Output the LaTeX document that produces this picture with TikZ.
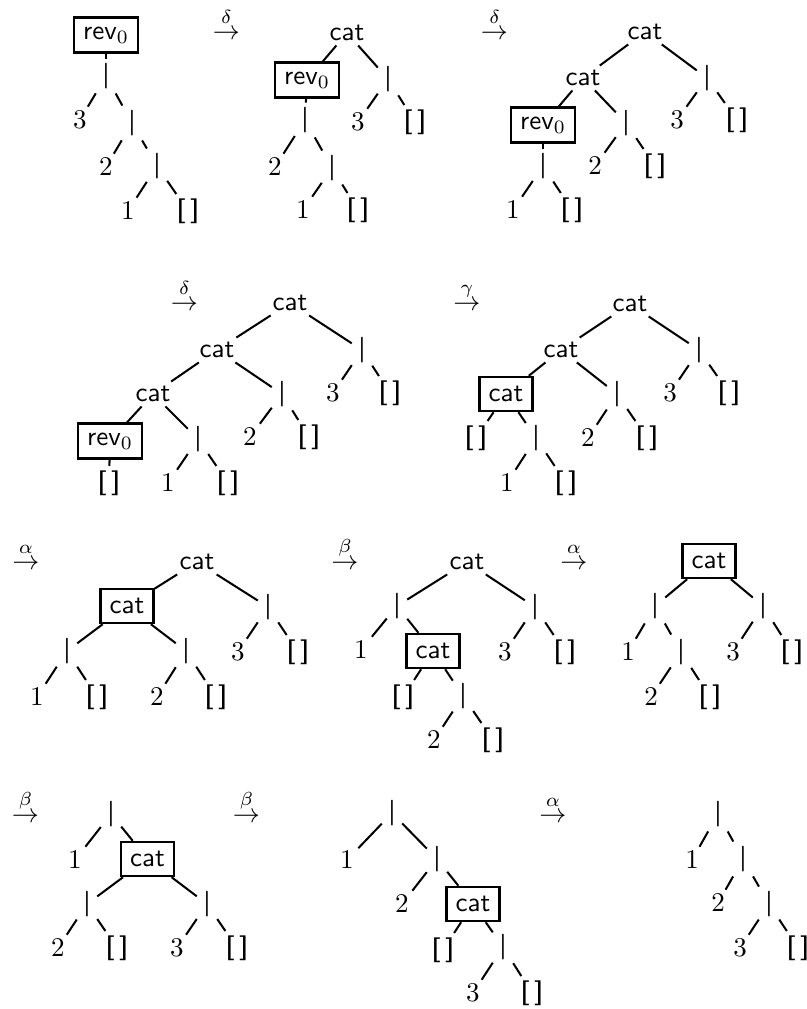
\documentclass[tikz,border=0pt]{standalone}
\usepackage{amsmath,amssymb}
\usepackage{tikz}
\usetikzlibrary{positioning}
\tikzstyle{edge} = [line width=0.75pt]
\tikzstyle{term} = [font=\sffamily]
\tikzstyle{redex} = [term, draw=black, line width=1pt, inner sep=0.3333em]
\tikzstyle{rewrite} = [inner sep=0pt, anchor=base]
\newcommand{\barsym}{\scalebox{1.5}[0.95]{\textsf{|}}}
\newcommand{\nilsym}{\scalebox{1.3}[0.92]{\textsf{[\kern1.2pt]}}}
\newcommand{\revz}{\textsf{rev}$_0$}

\begin{document}
\begin{tikzpicture}[x=0.37pt, y=-0.37pt, inner sep=1.5pt]
\useasboundingbox (0,0) rectangle (807,1009);

% Step 1: rev0 applied to the list
\node (s1_rev) [redex] at (106,35) {\revz};
\node (s1_c1) [term] at (106,76) {\barsym};
\node (s1_3) at (80,120) {$3$};
\node (s1_c2) [term] at (132,123) {\barsym};
\node (s1_2) at (106,167) {$2$};
\node (s1_c3) [term] at (157,166) {\barsym};
\node (s1_1) at (128,211) {$1$};
\node (s1_nil) [term] at (188,211) {\nilsym};
\draw [edge] (s1_rev) -- (s1_c1);
\draw [edge] (s1_c1) -- (s1_3);
\draw [edge] (s1_c1) -- (s1_c2);
\draw [edge] (s1_c2) -- (s1_2);
\draw [edge] (s1_c2) -- (s1_c3);
\draw [edge] (s1_c3) -- (s1_1);
\draw [edge] (s1_c3) -- (s1_nil);

\node (a1) [rewrite] at (226.5,39) {$\stackrel{\delta}{\to}$};

% Step 2
\node (s2_cat) [term] at (347,33) {cat};
\node (s2_rev) [redex] at (307,80) {\revz};
\node (s2_c1) [term] at (388,79) {\barsym};
\node (s2_3) at (358,122) {$3$};
\node (s2_nil1) [term] at (415,122) {\nilsym};
\node (s2_c2) [term] at (305,120) {\barsym};
\node (s2_2) at (275,167) {$2$};
\node (s2_c3) [term] at (332,168) {\barsym};
\node (s2_1) at (303,210) {$1$};
\node (s2_nil2) [term] at (358,210) {\nilsym};
\draw [edge] (s2_cat) -- (s2_rev);
\draw [edge] (s2_cat) -- (s2_c1);
\draw [edge] (s2_c1) -- (s2_3);
\draw [edge] (s2_c1) -- (s2_nil1);
\draw [edge] (s2_rev) -- (s2_c2);
\draw [edge] (s2_c2) -- (s2_2);
\draw [edge] (s2_c2) -- (s2_c3);
\draw [edge] (s2_c3) -- (s2_1);
\draw [edge] (s2_c3) -- (s2_nil2);

\node (a2) [rewrite] at (494.5,39) {$\stackrel{\delta}{\to}$};

% Step 3
\node (s3_cat1) [term] at (645,32) {cat};
\node (s3_cat2) [term] at (583,78) {cat};
\node (s3_c1) [term] at (707,78) {\barsym};
\node (s3_rev) [redex] at (543,125) {\revz};
\node (s3_c2) [term] at (626,123) {\barsym};
\node (s3_3) at (677,120) {$3$};
\node (s3_nil1) [term] at (737,120) {\nilsym};
\node (s3_2) at (595,166) {$2$};
\node (s3_nil2) [term] at (655,166) {\nilsym};
\node (s3_c3) [term] at (543,166) {\barsym};
\node (s3_1) at (513,210) {$1$};
\node (s3_nil3) [term] at (572,210) {\nilsym};
\draw [edge] (s3_cat1) -- (s3_cat2);
\draw [edge] (s3_cat1) -- (s3_c1);
\draw [edge] (s3_c1) -- (s3_3);
\draw [edge] (s3_c1) -- (s3_nil1);
\draw [edge] (s3_cat2) -- (s3_rev);
\draw [edge] (s3_cat2) -- (s3_c2);
\draw [edge] (s3_c2) -- (s3_2);
\draw [edge] (s3_c2) -- (s3_nil2);
\draw [edge] (s3_rev) -- (s3_c3);
\draw [edge] (s3_c3) -- (s3_1);
\draw [edge] (s3_c3) -- (s3_nil3);

% Step 4
\node (a3) [rewrite] at (184.5,310) {$\stackrel{\delta}{\to}$};

\node (s4_cat1) [term] at (290,303) {cat};
\node (s4_cat2) [term] at (217,350) {cat};
\node (s4_c1) [term] at (362,350) {\barsym};
\node (s4_cat3) [term] at (153,394) {cat};
\node (s4_c2) [term] at (282,394) {\barsym};
\node (s4_3) at (333,393) {$3$};
\node (s4_nil1) [term] at (390,393) {\nilsym};
\node (s4_rev) [redex] at (110,441) {\revz};
\node (s4_c3) [term] at (198,439) {\barsym};
\node (s4_2) at (250,437) {$2$};
\node (s4_nil2) [term] at (309,437) {\nilsym};
\node (s4_nil3) [term] at (109,483) {\nilsym};
\node (s4_1) at (168,483) {$1$};
\node (s4_nil4) [term] at (228,483) {\nilsym};
\draw [edge] (s4_cat1) -- (s4_cat2);
\draw [edge] (s4_cat1) -- (s4_c1);
\draw [edge] (s4_c1) -- (s4_3);
\draw [edge] (s4_c1) -- (s4_nil1);
\draw [edge] (s4_cat2) -- (s4_cat3);
\draw [edge] (s4_cat2) -- (s4_c2);
\draw [edge] (s4_c2) -- (s4_2);
\draw [edge] (s4_c2) -- (s4_nil2);
\draw [edge] (s4_cat3) -- (s4_rev);
\draw [edge] (s4_cat3) -- (s4_c3);
\draw [edge] (s4_rev) -- (s4_nil3);
\draw [edge] (s4_c3) -- (s4_1);
\draw [edge] (s4_c3) -- (s4_nil4);

% Step 5
\node (a4) [rewrite] at (467,310) {$\stackrel{\gamma}{\to}$};

\node (s5_cat1) [term] at (630,304) {cat};
\node (s5_cat2) [term] at (561,350) {cat};
\node (s5_c1) [term] at (699,350) {\barsym};
\node (s5_cat3) [redex] at (506,394) {cat};
\node (s5_c2) [term] at (617,394) {\barsym};
\node (s5_3) at (670,393) {$3$};
\node (s5_nil1) [term] at (729,393) {\nilsym};
\node (s5_nil2) [term] at (476,438) {\nilsym};
\node (s5_c3) [term] at (536,438) {\barsym};
\node (s5_2) at (588,438) {$2$};
\node (s5_nil3) [term] at (647,438) {\nilsym};
\node (s5_1) at (507,483) {$1$};
\node (s5_nil4) [term] at (566,483) {\nilsym};
\draw [edge] (s5_cat1) -- (s5_cat2);
\draw [edge] (s5_cat1) -- (s5_c1);
\draw [edge] (s5_c1) -- (s5_3);
\draw [edge] (s5_c1) -- (s5_nil1);
\draw [edge] (s5_cat2) -- (s5_cat3);
\draw [edge] (s5_cat2) -- (s5_c2);
\draw [edge] (s5_c2) -- (s5_2);
\draw [edge] (s5_c2) -- (s5_nil3);
\draw [edge] (s5_cat3) -- (s5_nil2);
\draw [edge] (s5_cat3) -- (s5_c3);
\draw [edge] (s5_c3) -- (s5_1);
\draw [edge] (s5_c3) -- (s5_nil4);

% Step 6
\node (a5) [rewrite] at (26,569) {$\stackrel{\alpha}{\to}$};

\node (s6_cat1) [term] at (197,562) {cat};
\node (s6_cat2) [redex] at (127,606) {cat};
\node (s6_c1) [term] at (268,607) {\barsym};
\node (s6_c2) [term] at (67,651) {\barsym};
\node (s6_c3) [term] at (186,651) {\barsym};
\node (s6_3) at (238,652) {$3$};
\node (s6_nil1) [term] at (298,652) {\nilsym};
\node (s6_1) at (37,697) {$1$};
\node (s6_nil2) [term] at (97,697) {\nilsym};
\node (s6_2) at (157,697) {$2$};
\node (s6_nil3) [term] at (216,697) {\nilsym};
\draw [edge] (s6_cat1) -- (s6_cat2);
\draw [edge] (s6_cat1) -- (s6_c1);
\draw [edge] (s6_c1) -- (s6_3);
\draw [edge] (s6_c1) -- (s6_nil1);
\draw [edge] (s6_cat2) -- (s6_c2);
\draw [edge] (s6_cat2) -- (s6_c3);
\draw [edge] (s6_c2) -- (s6_1);
\draw [edge] (s6_c2) -- (s6_nil2);
\draw [edge] (s6_c3) -- (s6_2);
\draw [edge] (s6_c3) -- (s6_nil3);

% Step 7
\node (a6) [rewrite] at (345,569) {$\stackrel{\beta}{\to}$};

\node (s7_cat1) [term] at (467,562) {cat};
\node (s7_c1) [term] at (397,606) {\barsym};
\node (s7_c2) [term] at (535,607) {\barsym};
\node (s7_1) at (361,650) {$1$};
\node (s7_cat2) [redex] at (433,651) {cat};
\node (s7_3) at (505,652) {$3$};
\node (s7_nil1) [term] at (565,652) {\nilsym};
\node (s7_nil2) [term] at (403,697) {\nilsym};
\node (s7_c3) [term] at (463,696) {\barsym};
\node (s7_2) at (434,740) {$2$};
\node (s7_nil3) [term] at (493,740) {\nilsym};
\draw [edge] (s7_cat1) -- (s7_c1);
\draw [edge] (s7_cat1) -- (s7_c2);
\draw [edge] (s7_c1) -- (s7_1);
\draw [edge] (s7_c1) -- (s7_cat2);
\draw [edge] (s7_c2) -- (s7_3);
\draw [edge] (s7_c2) -- (s7_nil1);
\draw [edge] (s7_cat2) -- (s7_nil2);
\draw [edge] (s7_cat2) -- (s7_c3);
\draw [edge] (s7_c3) -- (s7_2);
\draw [edge] (s7_c3) -- (s7_nil3);

% Step 8
\node (a7) [rewrite] at (574,569) {$\stackrel{\alpha}{\to}$};

\node (s8_cat) [redex] at (709,561) {cat};
\node (s8_c1) [term] at (655,606) {\barsym};
\node (s8_c2) [term] at (763,606) {\barsym};
\node (s8_1) at (628,652) {$1$};
\node (s8_c3) [term] at (681,652) {\barsym};
\node (s8_3) at (733,652) {$3$};
\node (s8_nil1) [term] at (792,652) {\nilsym};
\node (s8_2) at (651,697) {$2$};
\node (s8_nil2) [term] at (710,697) {\nilsym};
\draw [edge] (s8_cat) -- (s8_c1);
\draw [edge] (s8_cat) -- (s8_c2);
\draw [edge] (s8_c1) -- (s8_1);
\draw [edge] (s8_c1) -- (s8_c3);
\draw [edge] (s8_c2) -- (s8_3);
\draw [edge] (s8_c2) -- (s8_nil1);
\draw [edge] (s8_c3) -- (s8_2);
\draw [edge] (s8_c3) -- (s8_nil2);

% Step 9
\node (a8) [rewrite] at (25.5,822) {$\stackrel{\beta}{\to}$};

\node (s9_c1) [term] at (111,814) {\barsym};
\node (s9_1) at (75,860) {$1$};
\node (s9_cat) [redex] at (147.5,859) {cat};
\node (s9_c2) [term] at (87,904) {\barsym};
\node (s9_c3) [term] at (207,904) {\barsym};
\node (s9_2) at (58,948) {$2$};
\node (s9_nil1) [term] at (117,948) {\nilsym};
\node (s9_3) at (177,948) {$3$};
\node (s9_nil2) [term] at (237,948) {\nilsym};
\draw [edge] (s9_c1) -- (s9_1);
\draw [edge] (s9_c1) -- (s9_cat);
\draw [edge] (s9_cat) -- (s9_c2);
\draw [edge] (s9_cat) -- (s9_c3);
\draw [edge] (s9_c2) -- (s9_2);
\draw [edge] (s9_c2) -- (s9_nil1);
\draw [edge] (s9_c3) -- (s9_3);
\draw [edge] (s9_c3) -- (s9_nil2);

% Step 10
\node (a9) [rewrite] at (246.5,822) {$\stackrel{\beta}{\to}$};

\node (s10_c1) [term] at (392,813) {\barsym};
\node (s10_1) at (347,860) {$1$};
\node (s10_c2) [term] at (437,859) {\barsym};
\node (s10_2) at (402,904) {$2$};
\node (s10_cat) [redex] at (473,904) {cat};
\node (s10_nil1) [term] at (443,950) {\nilsym};
\node (s10_c3) [term] at (503,947) {\barsym};
\node (s10_3) at (473,993) {$3$};
\node (s10_nil2) [term] at (532,993) {\nilsym};
\draw [edge] (s10_c1) -- (s10_1);
\draw [edge] (s10_c1) -- (s10_c2);
\draw [edge] (s10_c2) -- (s10_2);
\draw [edge] (s10_c2) -- (s10_cat);
\draw [edge] (s10_cat) -- (s10_nil1);
\draw [edge] (s10_cat) -- (s10_c3);
\draw [edge] (s10_c3) -- (s10_3);
\draw [edge] (s10_c3) -- (s10_nil2);

% Step 11: the reversed list
\node (a10) [rewrite] at (553,822) {$\stackrel{\alpha}{\to}$};

\node (s11_c1) [term] at (718,814) {\barsym};
\node (s11_1) at (692,860) {$1$};
\node (s11_c2) [term] at (743,859) {\barsym};
\node (s11_2) at (718,903) {$2$};
\node (s11_c3) [term] at (769,904) {\barsym};
\node (s11_3) at (740,948) {$3$};
\node (s11_nil) [term] at (798,948) {\nilsym};
\draw [edge] (s11_c1) -- (s11_1);
\draw [edge] (s11_c1) -- (s11_c2);
\draw [edge] (s11_c2) -- (s11_2);
\draw [edge] (s11_c2) -- (s11_c3);
\draw [edge] (s11_c3) -- (s11_3);
\draw [edge] (s11_c3) -- (s11_nil);

\end{tikzpicture}
\end{document}
